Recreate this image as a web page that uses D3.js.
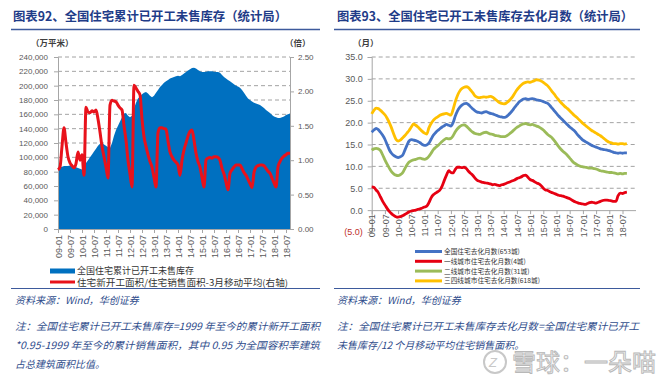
<!DOCTYPE html>
<html><head><meta charset="utf-8">
<script src="https://cdn.jsdelivr.net/npm/d3@7"></script>
<style>body{margin:0;background:#fff} svg{display:block}</style>
</head><body><svg id="c" width="660" height="391"></svg>
<script>
// ---------- DATA ----------
const tickLabels = ["09-01","09-07","10-01","10-07","11-01","11-07","12-01","12-07","13-01","13-07","14-01","14-07","15-01","15-07","16-01","16-07","17-01","17-07","18-01","18-07"];
const leftTicks = [0,20000,40000,60000,80000,100000,120000,140000,160000,180000,200000,220000,240000];
const rightAxisTicks = [0,0.5,1,1.5,2,2.5];
const monthsTicks = [-5,0,5,10,15,20,25,30,35];

// 全国住宅累计已开工未售库存 (万平米)
const inventory = [85000,86000,87000,88000,88000,88000,88500,88000,87500,86000,
85000,84000,83000,85000,92000,96000,100000,104000,108000,112000,
116000,119000,120000,118000,116000,114000,113000,120000,130000,138000,
144000,150000,156000,161000,162000,158000,156000,158000,168000,176000,
182000,185000,188000,190000,191000,189000,186000,184000,186000,190000,
194000,198000,201000,204000,206000,208000,210000,211000,212000,213000,
214000,213000,215000,217000,219000,221000,223000,224500,225000,224000,
222000,220000,219000,219000,219500,220000,220000,220000,219500,219000,
219000,218000,215000,212000,210000,208000,206000,204000,202000,200000,
199000,197000,194000,190000,186000,182000,180000,178000,176000,175000,
174000,173000,171000,169000,166000,164000,162000,159000,157000,156000,
155000,155000,156000,157000,159000,160000,161000];

// 住宅新开工面积/住宅销售面积-3月移动平均 (右轴)
const ratio = [0.86,0.90,1.20,1.47,1.25,1.05,0.96,0.92,0.89,0.95,
1.12,1.00,1.08,0.78,1.77,1.70,1.69,1.72,1.70,1.73,
1.60,1.41,1.20,1.05,0.90,0.74,1.80,1.87,1.86,1.85,
1.80,1.76,1.73,1.50,1.29,1.00,0.80,0.61,2.09,2.05,
2.00,1.95,1.60,1.34,1.20,1.08,0.98,0.90,0.75,0.61,
1.40,1.47,1.47,1.46,1.45,1.28,1.12,1.05,1.00,0.97,
0.93,0.78,1.00,1.15,1.25,1.35,1.42,1.44,1.29,1.10,
0.98,0.90,0.75,0.61,1.00,1.03,1.04,1.03,1.05,1.05,
1.04,1.00,0.88,0.80,0.68,0.57,0.81,0.86,0.90,0.93,
0.93,0.93,0.88,0.82,0.78,0.72,0.66,0.60,0.82,0.90,
0.92,0.93,0.93,0.92,0.88,0.84,0.81,0.74,0.67,0.61,
0.90,0.98,1.03,1.06,1.08,1.10,1.10];

// 去化月数
const nationalMonths = [17.8,18.3,18.7,18.4,17.8,17.1,16.2,15.0,13.8,13.0,
12.5,12.2,12.0,12.2,12.5,13.6,14.8,15.8,16.1,16.0,
15.9,15.7,15.4,15.0,14.8,14.9,15.3,16.2,17.1,17.7,
18.2,18.6,19.0,19.3,19.6,19.4,19.2,20.0,21.5,22.7,
23.5,24.0,24.3,24.4,24.1,23.6,23.1,22.7,22.4,22.3,
22.2,22.4,22.5,22.3,22.1,22.0,21.8,21.6,21.4,21.3,
21.2,21.3,21.7,22.2,22.8,23.5,24.1,24.7,25.1,25.4,
25.5,25.3,25.4,25.5,25.4,25.2,25.1,25.0,24.8,24.6,
24.4,23.9,23.3,22.7,22.1,21.5,21.0,20.5,20.0,19.5,
19.0,18.6,18.2,17.6,17.0,16.5,16.0,15.7,15.4,15.1,
14.8,14.6,14.4,14.2,14.0,13.9,13.8,13.7,13.6,13.4,
13.2,13.1,13.0,13.1,13.0,13.1,13.1];
const tier1Months = [5.3,5.2,4.6,4.0,3.0,2.0,1.2,0.4,-0.3,-0.8,
-1.2,-1.5,-1.6,-1.5,-1.3,-1.0,-0.7,-0.4,-0.2,-0.1,
0.0,0.2,0.3,0.5,0.7,0.9,1.7,2.8,3.5,3.9,
4.2,4.6,5.5,6.8,8.0,9.0,8.6,8.5,9.3,9.8,
9.8,9.7,9.8,9.5,8.9,8.4,7.9,7.3,6.8,6.6,
6.4,6.3,6.2,6.1,6.0,5.8,5.9,5.7,5.6,5.8,
5.9,6.1,6.3,6.5,6.7,6.9,7.2,7.4,7.6,7.9,
8.0,7.5,7.0,6.8,6.5,6.2,6.0,5.6,5.0,4.6,
4.5,4.2,4.0,3.8,3.6,3.4,3.3,3.2,3.0,2.8,
2.6,2.3,2.0,1.8,1.6,1.5,1.4,1.3,1.5,1.7,
1.8,1.7,1.6,1.8,2.0,2.2,2.3,2.3,2.2,2.1,
2.0,2.0,3.3,3.9,3.8,4.0,4.1];
const tier2Months = [13.7,14.0,14.1,14.0,13.6,12.6,11.5,10.5,9.6,8.8,
8.3,8.0,7.9,8.1,8.5,9.4,10.3,11.0,11.3,11.5,
11.6,11.8,11.9,11.7,11.6,11.8,12.3,13.0,13.8,14.3,
14.7,15.2,15.7,16.1,16.4,16.3,16.4,17.0,17.9,18.6,
19.1,19.4,19.5,19.2,18.7,18.2,17.8,17.5,17.4,17.3,
17.5,17.7,17.8,17.6,17.4,17.3,17.1,17.0,16.9,16.8,
16.8,16.9,17.2,17.6,18.0,18.5,18.9,19.2,19.5,19.7,
19.8,19.6,19.5,19.6,19.4,19.2,19.0,18.7,18.3,17.8,
17.3,16.9,16.5,15.9,15.2,14.5,13.9,13.4,13.0,12.5,
11.9,11.3,10.8,10.5,10.2,10.0,9.9,9.8,9.7,9.6,
9.6,9.5,9.4,9.2,9.0,8.9,8.8,8.7,8.6,8.6,
8.5,8.4,8.3,8.4,8.3,8.4,8.4];
const tier34Months = [22.0,22.8,23.3,23.2,22.8,22.3,21.8,21.0,20.0,18.8,
17.4,16.2,15.8,16.0,16.5,17.0,17.6,18.2,19.0,19.7,
19.4,19.0,18.5,18.0,17.6,17.4,18.8,19.8,20.5,21.0,
21.3,21.7,21.9,22.0,22.1,21.9,21.7,23.0,24.8,26.2,
27.2,27.8,28.1,28.2,28.0,27.4,26.8,26.1,25.8,25.7,
25.8,25.9,25.8,25.9,26.0,25.8,25.4,25.0,24.6,24.4,
24.3,24.4,24.8,25.3,25.9,26.7,27.5,28.1,28.6,29.0,
29.2,29.3,29.2,29.4,29.6,29.8,29.7,29.5,29.2,28.8,
28.4,27.8,27.1,26.5,25.8,25.2,24.6,24.1,23.6,23.2,
22.7,22.2,21.7,21.3,20.8,20.3,19.8,19.4,19.0,18.6,
18.2,17.9,17.6,17.3,17.0,16.6,16.2,15.8,15.5,15.4,
15.2,15.2,15.1,15.2,15.2,15.1,15.2];

// categories: monthly 2009-01 .. 2018-09
const fmtMonth = d3.timeFormat("%y-%m");
const categories = d3.timeMonth.range(new Date(2009,0,1), new Date(2018,9,1)).map(fmtMonth);

// ---------- DRAW ----------
const svg = d3.select("#c");
const CJK = "'Noto Sans CJK SC','Noto Sans',sans-serif";
const LAT = "'Liberation Sans',Arial,sans-serif";
const navy = "#1f3c88";
const tickCol = "#595959";
const axisCol = "#a6a6a6";

function header(x, w, title, ulX1, ulX2){
  svg.append("text").attr("x",x).attr("y",21).text(title)
    .attr("font-family",CJK).attr("font-weight","bold").attr("font-size",12.5)
    .attr("fill",navy).attr("textLength",w).attr("lengthAdjust","spacingAndGlyphs");
  svg.append("line").attr("x1",ulX1).attr("x2",ulX2).attr("y1",29.5).attr("y2",29.5)
    .attr("stroke","#3d5a9c").attr("stroke-width",1.5);
}
header(13,274,"图表92、全国住宅累计已开工未售库存（统计局）",11,320);
header(337,296,"图表93、全国住宅已开工未售库存去化月数（统计局）",334,640);

function unit(x,t){
  svg.append("text").attr("x",x).attr("y",45.5).text(t)
    .attr("font-family",CJK).attr("font-weight","bold").attr("font-size",8.5).attr("fill","#404040");
}
unit(31,"（万平米）"); unit(285,"（倍）"); unit(353,"（月）");

function styleAxis(g, fs){
  g.select(".domain").attr("stroke",axisCol);
  g.selectAll(".tick line").attr("stroke",axisCol);
  g.selectAll(".tick text").attr("fill",tickCol).attr("font-family",LAT).attr("font-size",fs);
}

// ===== LEFT CHART =====
const xL = d3.scalePoint().domain(categories).range([58,290]);
const yL = d3.scaleLinear().domain([0,240000]).range([229,57]);
const yR = d3.scaleLinear().domain([0,2.5]).range([229,57]);

svg.append("g").selectAll("line").data(leftTicks.filter(d=>d>0)).join("line")
  .attr("x1",58).attr("x2",290).attr("y1",d=>yL(d)).attr("y2",d=>yL(d))
  .attr("stroke","#8c8c8c").attr("stroke-width",0.8).attr("stroke-dasharray","4,3");

const areaL = d3.area().x((d,i)=>xL(categories[i])).y0(yL(0)).y1(d=>yL(d)).curve(d3.curveLinear);
svg.append("path").datum(inventory).attr("d",areaL).attr("fill","#0070c0");

const gyl = svg.append("g").attr("transform","translate(58,0)")
  .call(d3.axisLeft(yL).tickValues(leftTicks).tickFormat(d3.format(",")).tickSize(4).tickPadding(6));
styleAxis(gyl,8);
const gyr = svg.append("g").attr("transform","translate(290,0)")
  .call(d3.axisRight(yR).tickValues(rightAxisTicks).tickFormat(d3.format(".2f")).tickSize(4).tickPadding(4));
styleAxis(gyr,8);
const gxl = svg.append("g").attr("transform","translate(0,229)")
  .call(d3.axisBottom(xL).tickValues(tickLabels).tickSize(4).tickSizeOuter(0));
styleAxis(gxl,9);
gxl.selectAll(".tick text").attr("transform","rotate(-90)").attr("text-anchor","end")
  .attr("x",-6).attr("y",0).attr("dy","0.35em");

const lineL = d3.line().x((d,i)=>xL(categories[i])).y(d=>yR(d)).curve(d3.curveMonotoneX);
svg.append("path").datum(ratio).attr("d",lineL).attr("fill","none")
  .attr("stroke","#e8121b").attr("stroke-width",3).attr("stroke-linejoin","round");

// legend left
svg.append("rect").attr("x",50).attr("y",268.5).attr("width",25).attr("height",5).attr("fill","#0070c0");
svg.append("line").attr("x1",50).attr("x2",75).attr("y1",282).attr("y2",282).attr("stroke","#e8121b").attr("stroke-width",3);
svg.append("text").attr("x",77).attr("y",274).text("全国住宅累计已开工未售库存")
  .attr("font-family",CJK).attr("font-size",9).attr("fill","#333");
svg.append("text").attr("x",77).attr("y",285.5).text("住宅新开工面积/住宅销售面积-3月移动平均(右轴)")
  .attr("font-family",CJK).attr("font-size",9).attr("fill","#333")
  .attr("textLength",211).attr("lengthAdjust","spacingAndGlyphs");

// ===== RIGHT CHART =====
const x0 = 371.7;
const xR = d3.scalePoint().domain(categories).range([x0, x0 + 2.2*(categories.length-1)]);
const yM = d3.scaleLinear().domain([-5,35]).range([232,57]);

svg.append("g").selectAll("line").data(monthsTicks.filter(d=>d>0)).join("line")
  .attr("x1",x0).attr("x2",636).attr("y1",d=>yM(d)).attr("y2",d=>yM(d))
  .attr("stroke","#8c8c8c").attr("stroke-width",0.8).attr("stroke-dasharray","4,3");

const gym = svg.append("g").attr("transform",`translate(${x0},0)`)
  .call(d3.axisLeft(yM).tickValues(monthsTicks)
    .tickFormat(d=> d<0 ? "("+Math.abs(d).toFixed(1)+")" : d.toFixed(1)).tickSize(4).tickPadding(5));
styleAxis(gym,9);
gym.selectAll(".tick text").filter(d=>d<0).attr("fill","#c0302a");

const gxm = svg.append("g").attr("transform",`translate(0,${yM(0)})`)
  .call(d3.axisBottom(xR).tickValues(tickLabels).tickSize(4).tickSizeOuter(0));
styleAxis(gxm,9);
gxm.select(".domain").attr("d",`M${x0},0.5H636`);
gxm.selectAll(".tick text").attr("transform","rotate(-90)").attr("text-anchor","end")
  .attr("x",-4).attr("y",0).attr("dy","0.35em");

const seriesR = [
  {name:"全国住宅去化月数(653城)", values:nationalMonths, color:"#4472c4"},
  {name:"一线城市住宅去化月数(4城)", values:tier1Months, color:"#e60012"},
  {name:"二线城市住宅去化月数(31城)", values:tier2Months, color:"#9bbb59"},
  {name:"三四线城市住宅去化月数(618城)", values:tier34Months, color:"#ffc000"}
];
const lineR = d3.line().x((d,i)=>xR(categories[i])).y(d=>yM(d)).curve(d3.curveMonotoneX);
[3,2,0,1].forEach(k=>{
  svg.append("path").datum(seriesR[k].values).attr("d",lineR).attr("fill","none")
    .attr("stroke",seriesR[k].color).attr("stroke-width",2.8).attr("stroke-linejoin","round");
});

// legend right
const legY = [251.5,261.3,271.1,280.9];
seriesR.forEach((s,i)=>{
  svg.append("line").attr("x1",415).attr("x2",442).attr("y1",legY[i]).attr("y2",legY[i])
    .attr("stroke",s.color).attr("stroke-width",3);
  svg.append("text").attr("x",444).attr("y",legY[i]+2.4).text(s.name)
    .attr("font-family",CJK).attr("font-size",6.7).attr("fill","#333");
});

// ===== FOOTERS =====
[[11,320],[334,640]].forEach(([a,b])=>{
  svg.append("line").attr("x1",a).attr("x2",b).attr("y1",288.5).attr("y2",288.5)
    .attr("stroke","#3d5a9c").attr("stroke-width",1);
});
function note(x,y,t,len){
  const el = svg.append("text").attr("x",x).attr("y",y).text(t)
    .attr("font-family",CJK).attr("font-style","italic").attr("font-size",10).attr("fill","#2f4d8c");
  if(len) el.attr("textLength",len).attr("lengthAdjust","spacingAndGlyphs");
}
note(15,304,"资料来源：Wind，华创证券");
note(337,304,"资料来源：Wind，华创证券");
note(15,330,"注：全国住宅累计已开工未售库存=1999 年至今的累计新开工面积",305);
note(15,349,"*0.95-1999 年至今的累计销售面积，其中 0.95 为全国容积率建筑",305);
note(15,368,"占总建筑面积比值。");
note(337,330,"注：全国住宅累计已开工未售库存去化月数=全国住宅累计已开工",302);
note(337,349,"未售库存/12 个月移动平均住宅销售面积。");

// watermark
svg.append("circle").attr("cx",495).attr("cy",362).attr("r",11)
  .attr("fill","none").attr("stroke","#c8c8c8").attr("stroke-width",2);
svg.append("text").attr("x",489).attr("y",367).text("Z")
  .attr("font-family",LAT).attr("font-size",13).attr("fill","#c8c8c8").attr("font-style","italic");
svg.append("text").attr("x",512).attr("y",371).text("雪球：一朵喵")
  .attr("font-family",CJK).attr("font-size",24).attr("fill","#f4f4f4")
  .attr("stroke","#b8b8b8").attr("stroke-width",0.9);
</script></body></html>
